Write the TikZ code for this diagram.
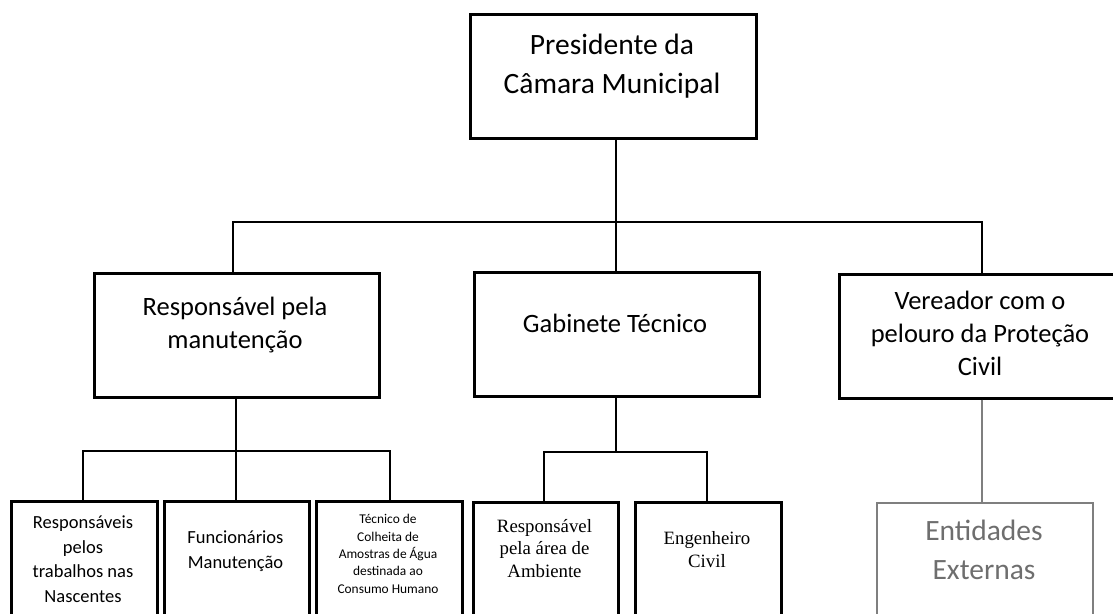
\documentclass[tikz,border=0pt]{standalone}
\usepackage{fontspec}
\setmainfont{Carlito}
\newfontfamily\tnr{Liberation Serif}
\definecolor{grayline}{HTML}{7F7F7F}
\definecolor{graytext}{HTML}{6E6E6E}
\begin{document}
\begin{tikzpicture}[x=1pt,y=-1pt,
  box/.style={draw=black, line width=2.5pt, rectangle, inner sep=0pt, anchor=north west},
  gbox/.style={draw=grayline, line width=1.8pt, rectangle, inner sep=0pt, anchor=north west},
  conn/.style={draw=black, line width=1.8pt},
  thinconn/.style={draw=black, line width=1.4pt},
  gconn/.style={draw=grayline, line width=1.1pt},
  txt/.style={align=center, anchor=base, inner sep=0pt},
  bigfont/.style={font=\fontsize{29.5}{38.5}\selectfont},
  midfont/.style={font=\fontsize{26.5}{32.8}\selectfont},
  smallfont/.style={font=\fontsize{18.5}{24.5}\selectfont},
  tinyfont/.style={font=\fontsize{13.4}{17.3}\selectfont},
  serifont/.style={font=\tnr\fontsize{18.8}{22.5}\selectfont},
]
\useasboundingbox (0,0) rectangle (1113,613);
\clip (0,0) rectangle (1113,613);

% boxes
\node[box, minimum width=286pt, minimum height=124pt] (pres) at (469,13) {};
\node[box, minimum width=285pt, minimum height=124pt] (resp) at (93,272) {};
\node[box, minimum width=285pt, minimum height=124pt] (gab) at (473,271) {};
\node[box, minimum width=284pt, minimum height=124pt] (ver) at (838,273) {};
\node[box, minimum width=146pt, minimum height=140pt] (b1) at (10,500) {};
\node[box, minimum width=145pt, minimum height=140pt] (b2) at (163,500) {};
\node[box, minimum width=146pt, minimum height=140pt] (b3) at (315,500) {};
\node[box, minimum width=145pt, minimum height=140pt] (b4) at (472,501) {};
\node[box, minimum width=146pt, minimum height=140pt] (b5) at (634,501) {};
\node[gbox, minimum width=216pt, minimum height=140pt] (ent) at (876,502) {};

% texts (anchor base = baseline of last line)
\node[txt, bigfont] (tpres) at (612,93) {Presidente da\\Câmara Municipal};
\node[txt, midfont] (tresp) at (235,348) {Responsável pela\\manutenção};
\node[txt, midfont] (tgab) at (615,332) {Gabinete Técnico};
\node[txt, midfont] (tver) at (980,375) {Vereador com o\\pelouro da Proteção\\Civil};
\node[txt, smallfont] (tb1) at (83,602) {Responsáveis\\pelos\\trabalhos nas\\Nascentes};
\node[txt, smallfont] (tb2) at (235.5,568) {Funcionários\\Manutenção};
\node[txt, tinyfont] (tb3) at (388,593) {Técnico de\\Colheita de\\Amostras de Água\\destinada ao\\Consumo Humano};
\node[txt, serifont] (tb4) at (544.5,577) {Responsável\\pela área de\\Ambiente};
\node[txt, serifont] (tb5) at (707,567) {Engenheiro\\Civil};
\node[txt, bigfont, text=graytext] (tent) at (984,579) {Entidades\\Externas};

% junction coordinates
\coordinate (j1) at (616,222);
\coordinate (hL) at (233,222);
\coordinate (hR) at (982,222);
\coordinate (j2) at (236,451);
\coordinate (l1) at (83,451);
\coordinate (l3) at (390,451);
\coordinate (j3) at (616,452);
\coordinate (g1) at (544,452);
\coordinate (g2) at (707,452);

% connectors
\draw[conn] (pres.south -| j1) -- (j1);
\draw[thinconn] (resp.north -| hL) |- (hR) -- (ver.north -| hR);
\draw[thinconn] (j1) -- (gab.north -| j1);
\draw[conn] (resp.south -| j2) -- (j2);
\draw[conn] (b1.north -| l1) |- (l3) -- (b3.north -| l3);
\draw[conn] (j2) -- (b2.north -| j2);
\draw[conn] (gab.south -| j3) -- (j3);
\draw[conn] (b4.north -| g1) |- (g2) -- (b5.north -| g2);
\draw[gconn] (ver.south -| hR) -- (ent.north -| hR);
\end{tikzpicture}
\end{document}
